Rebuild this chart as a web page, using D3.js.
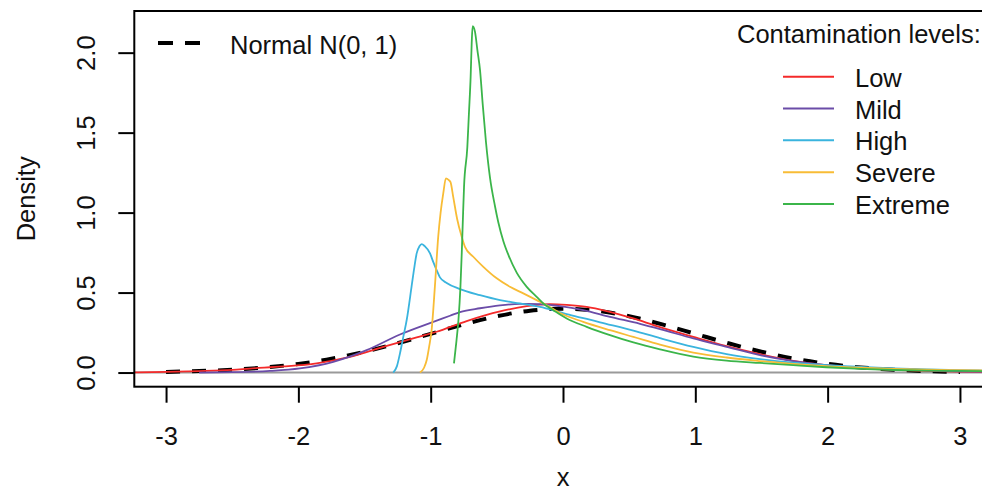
<!DOCTYPE html>
<html>
<head>
<meta charset="utf-8">
<script src="https://cdn.jsdelivr.net/npm/d3@7"></script>
<style>
  html, body { margin: 0; padding: 0; background: #fff; }
  svg { display: block; font-family: "Liberation Sans", Arial, sans-serif; }
</style>
</head>
<body>
<svg id="chart" width="982" height="492"></svg>
<script>
// ---------- data ----------
const xTicks = [-3, -2, -1, 0, 1, 2, 3];
const xTickLabels = ["-3", "-2", "-1", "0", "1", "2", "3"];
const yTicks = [0, 0.5, 1.0, 1.5, 2.0];
const yTickLabels = ["0.0", "0.5", "1.0", "1.5", "2.0"];

const seriesNames = ["Low", "Mild", "High", "Severe", "Extreme"];
const legendTitle = "Contamination levels:";
const normalLabel = "Normal N(0, 1)";

const normalX = [-3, -2.75, -2.5, -2.25, -2, -1.75, -1.5, -1.25, -1, -0.75, -0.5, -0.25, 0,
                 0.25, 0.5, 0.75, 1, 1.25, 1.5, 1.75, 2, 2.25, 2.5, 2.75, 3];
const normalY = [0.004, 0.009, 0.018, 0.032, 0.054, 0.086, 0.130, 0.183, 0.242, 0.301, 0.352, 0.387, 0.399,
                 0.387, 0.352, 0.301, 0.242, 0.183, 0.130, 0.086, 0.054, 0.032, 0.018, 0.009, 0.004];

const lowX = [-3.3, -3.0, -2.75, -2.5, -2.366, -2.114, -1.862, -1.61, -1.358, -1.106, -0.955, -0.728, -0.476,
              -0.274, -0.098, 0.028, 0.179, 0.33, 0.532, 0.708, 0.985, 1.237, 1.489, 1.74, 1.99, 2.25, 2.5, 2.75, 3.0, 3.3];
const lowY = [0.0, 0.004, 0.009, 0.017, 0.025, 0.038, 0.058, 0.098, 0.160, 0.220, 0.255, 0.322, 0.382,
              0.415, 0.428, 0.423, 0.410, 0.384, 0.338, 0.290, 0.223, 0.165, 0.115, 0.073, 0.046, 0.028, 0.017, 0.010, 0.006, 0.003];

const mildX = [-2.75, -2.5, -2.215, -1.988, -1.736, -1.484, -1.232, -0.98, -0.854, -0.779, -0.627, -0.476, -0.325,
               -0.174, -0.023, 0.153, 0.355, 0.582, 0.733, 0.985, 1.237, 1.489, 1.741, 1.99, 2.25, 2.5, 2.75, 3.0, 3.3];
const mildY = [0.0, 0.002, 0.010, 0.026, 0.067, 0.140, 0.238, 0.317, 0.355, 0.378, 0.402, 0.420, 0.429,
               0.428, 0.415, 0.390, 0.348, 0.305, 0.272, 0.213, 0.161, 0.109, 0.071, 0.046, 0.030, 0.020, 0.013, 0.008, 0.005];

const highX = [-1.283, -1.255, -1.232, -1.207, -1.181, -1.144, -1.125, -1.106, -1.085, -1.068, -1.045, -1.005, -0.98,
               -0.955, -0.93, -0.879, -0.779, -0.627, -0.476, -0.325, -0.174, -0.073, 0.028, 0.18, 0.28, 0.532, 0.733,
               0.985, 1.237, 1.489, 1.74, 1.99, 2.25, 2.5, 2.75, 3.0, 3.3];
const highY = [0.0, 0.04, 0.12, 0.223, 0.33, 0.54, 0.65, 0.745, 0.79, 0.803, 0.79, 0.745, 0.69,
               0.64, 0.595, 0.56, 0.522, 0.484, 0.453, 0.432, 0.410, 0.389, 0.365, 0.335, 0.314, 0.262, 0.215,
               0.160, 0.115, 0.084, 0.062, 0.047, 0.036, 0.026, 0.019, 0.015, 0.010];

const severeX = [-1.081, -1.05, -1.03, -1.01, -0.993, -0.968, -0.943, -0.925, -0.905, -0.885, -0.865, -0.85, -0.83,
                 -0.8, -0.766, -0.741, -0.678, -0.602, -0.501, -0.401, -0.3, -0.199, -0.123, -0.023, 0.153, 0.355,
                 0.532, 0.733, 0.985, 1.237, 1.489, 1.74, 1.99, 2.25, 2.5, 2.75, 3.0, 3.3];
const severeY = [0.0, 0.03, 0.078, 0.17, 0.265, 0.54, 0.85, 1.0, 1.12, 1.214, 1.205, 1.19, 1.1,
                 0.96, 0.85, 0.786, 0.724, 0.661, 0.589, 0.536, 0.495, 0.453, 0.421, 0.372, 0.317, 0.265,
                 0.223, 0.175, 0.125, 0.094, 0.072, 0.054, 0.040, 0.030, 0.023, 0.018, 0.015, 0.012];

const extremeX = [-0.824, -0.805, -0.79, -0.775, -0.765, -0.757, -0.748, -0.723, -0.711, -0.698, -0.69, -0.683,
                  -0.665, -0.647, -0.627, -0.607, -0.582, -0.552, -0.514, -0.489, -0.45, -0.41, -0.35, -0.274, -0.199,
                  -0.149, -0.073, 0.028, 0.179, 0.355, 0.532, 0.733, 0.985, 1.237, 1.489, 1.74, 1.99, 2.25, 2.5,
                  2.75, 3.0, 3.3];
const extremeY = [0.057, 0.2, 0.33, 0.54, 0.75, 0.95, 1.16, 1.41, 1.62, 1.85, 2.06, 2.166,
                  2.13, 2.016, 1.89, 1.68, 1.44, 1.22, 1.04, 0.94, 0.82, 0.73, 0.625, 0.536, 0.473,
                  0.432, 0.39, 0.338, 0.286, 0.234, 0.188, 0.145, 0.100, 0.075, 0.060, 0.046, 0.033, 0.023, 0.016,
                  0.012, 0.010, 0.008];

const seriesX = [lowX, mildX, highX, severeX, extremeX];
const seriesY = [lowY, mildY, highY, severeY, extremeY];
const seriesColors = ["#F42A2A", "#6B4CA8", "#3AB4DE", "#F8BC36", "#3BB54A"];

// ---------- layout ----------
const svg = d3.select("#chart");
const pLeft = 134.3, pRight = 991.7, pTop = 11, pBottom = 386.7;
const x = d3.scaleLinear().domain([-3.24, 3.24]).range([pLeft, pRight]);
const y = d3.scaleLinear().domain([-0.0885, 2.2605]).range([pBottom, pTop]);
const FS = 25.5;
const textCol = "#111";

svg.append("defs").append("clipPath").attr("id", "plotclip")
  .append("rect").attr("x", pLeft).attr("y", pTop).attr("width", pRight - pLeft).attr("height", pBottom - pTop);

const plot = svg.append("g").attr("clip-path", "url(#plotclip)");

// zero reference line
plot.append("line")
  .attr("x1", pLeft).attr("x2", pRight)
  .attr("y1", y(0)).attr("y2", y(0))
  .attr("stroke", "#9a9a9a").attr("stroke-width", 2);

const line = d3.line().x(d => x(d[0])).y(d => y(d[1])).curve(d3.curveMonotoneX);

// normal dashed reference
plot.append("path")
  .datum(d3.zip(normalX, normalY))
  .attr("d", line)
  .attr("fill", "none")
  .attr("stroke", "#000")
  .attr("stroke-width", 4)
  .attr("stroke-dasharray", "14,12");

// contamination curves
seriesNames.forEach((name, i) => {
  plot.append("path")
    .datum(d3.zip(seriesX[i], seriesY[i]))
    .attr("d", line)
    .attr("fill", "none")
    .attr("stroke", seriesColors[i])
    .attr("stroke-width", 1.8)
    .attr("stroke-linejoin", "round");
});

// box
svg.append("rect")
  .attr("x", pLeft).attr("y", pTop)
  .attr("width", pRight - pLeft).attr("height", pBottom - pTop)
  .attr("fill", "none").attr("stroke", "#000").attr("stroke-width", 2);

// x axis
const xAxis = d3.axisBottom(x).tickValues(xTicks)
  .tickFormat((d, i) => xTickLabels[i]).tickSize(16).tickPadding(24);
const gx = svg.append("g").attr("transform", `translate(0,${pBottom})`).call(xAxis);
gx.select(".domain").remove();
gx.selectAll(".tick line").attr("stroke", "#000").attr("stroke-width", 2);
gx.selectAll(".tick text").attr("font-size", FS).attr("fill", textCol)
  .attr("font-family", "Liberation Sans, Arial, sans-serif");

// y axis
const yAxis = d3.axisLeft(y).tickValues(yTicks)
  .tickFormat((d, i) => yTickLabels[i]).tickSize(16).tickPadding(0);
const gy = svg.append("g").attr("transform", `translate(${pLeft},0)`).call(yAxis);
gy.select(".domain").remove();
gy.selectAll(".tick line").attr("stroke", "#000").attr("stroke-width", 2);
gy.selectAll(".tick text")
  .attr("x", null).attr("dy", null)
  .attr("text-anchor", "middle")
  .attr("transform", "translate(-39,0) rotate(-90)")
  .attr("font-size", FS).attr("fill", textCol)
  .attr("font-family", "Liberation Sans, Arial, sans-serif");

// axis titles
svg.append("text")
  .attr("x", x(0)).attr("y", 486)
  .attr("text-anchor", "middle")
  .attr("font-size", FS).attr("fill", textCol)
  .text("x");
svg.append("text")
  .attr("transform", `translate(35,${(pTop + pBottom) / 2}) rotate(-90)`)
  .attr("text-anchor", "middle")
  .attr("font-size", FS).attr("fill", textCol)
  .text("Density");

// legend: normal
svg.append("line")
  .attr("x1", 158).attr("x2", 200).attr("y1", 43).attr("y2", 43)
  .attr("stroke", "#000").attr("stroke-width", 4).attr("stroke-dasharray", "15,12");
svg.append("text")
  .attr("x", 230).attr("y", 54)
  .attr("font-size", FS).attr("fill", textCol)
  .text(normalLabel);

// legend: contamination levels
svg.append("text")
  .attr("x", 737).attr("y", 43)
  .attr("font-size", FS).attr("fill", textCol)
  .text(legendTitle);
const legY = d3.scalePoint().domain(seriesNames).range([76.7, 204]);
const lg = svg.append("g");
seriesNames.forEach((name, i) => {
  lg.append("line")
    .attr("x1", 783).attr("x2", 834)
    .attr("y1", legY(name)).attr("y2", legY(name))
    .attr("stroke", seriesColors[i]).attr("stroke-width", 2);
  lg.append("text")
    .attr("x", 855).attr("y", legY(name) + 10)
    .attr("font-size", FS).attr("fill", textCol)
    .text(name);
});
</script>
</body>
</html>
